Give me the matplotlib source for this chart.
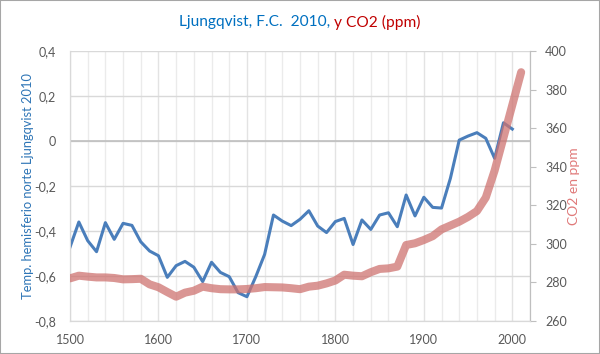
"""
Ljungqvist 2010 northern hemisphere temperature vs CO2 (ppm), dual axis chart.
"""
import matplotlib
matplotlib.use("Agg")
import matplotlib.pyplot as plt
from matplotlib.patches import Rectangle
from matplotlib.ticker import FuncFormatter, MultipleLocator

plt.rcParams["font.family"] = ["Lato", "DejaVu Sans"]

# Decadal temperature anomaly (Ljungqvist 2010)
temp_years = list(range(1500, 2001, 10))
temp_values = [
    -0.472, -0.360, -0.443, -0.492, -0.363, -0.437, -0.366, -0.375, -0.448, -0.489,
    -0.510, -0.606, -0.554, -0.535, -0.561, -0.625, -0.539, -0.584, -0.603, -0.674,
    -0.692, -0.603, -0.504, -0.329, -0.356, -0.376, -0.348, -0.310, -0.378, -0.407,
    -0.358, -0.344, -0.460, -0.351, -0.393, -0.329, -0.319, -0.381, -0.240, -0.333,
    -0.250, -0.295, -0.298, -0.166, 0.004, 0.022, 0.037, 0.012, -0.077, 0.081,
    0.053,
]

# CO2 concentration (ppm)
co2_years = list(range(1500, 2011, 10))
co2_values = [
    282.1, 283.5, 283.0, 282.6, 282.6, 282.3, 281.6, 281.7, 281.9, 279.0,
    277.5, 275.0, 272.6, 274.7, 275.7, 277.8, 277.0, 276.5, 276.4, 276.4,
    276.6, 277.0, 277.6, 277.5, 277.4, 277.0, 276.5, 277.8, 278.3, 279.5,
    281.0, 284.0, 283.5, 283.2, 285.3, 287.0, 287.3, 288.2, 299.4, 300.3,
    302.0, 304.0, 307.5, 309.5, 311.5, 314.0, 317.0, 324.0, 338.0, 355.0,
    372.0, 389.0,
]

BLUE = "#4A7EBB"
PINK = "#CE7370"
TICK_GRAY = "#595959"

fig = plt.figure(figsize=(6, 3.54), dpi=100)
fig.patches.append(Rectangle((0, 0), 1, 1, transform=fig.transFigure,
                             fill=False, edgecolor="#A6A6A6", linewidth=1.5))

ax = fig.add_axes([70 / 600, 33 / 354, 460 / 600, 270 / 354])
ax2 = ax.twinx()

# temperature
ax.plot(temp_years, temp_values, color=BLUE, linewidth=2.2, zorder=3)
ax.set_xlim(1500, 2020)
ax.set_ylim(-0.8, 0.4)
ax.xaxis.set_major_locator(MultipleLocator(100))
ax.xaxis.set_minor_locator(MultipleLocator(20))
ax.yaxis.set_major_locator(MultipleLocator(0.2))
ax.yaxis.set_major_formatter(FuncFormatter(
    lambda v, p: "0" if abs(v) < 1e-9 else f"{v:.1f}".replace(".", ",")))
ax.grid(axis="y", which="major", color="#D9D9D9", linewidth=1.0)
ax.grid(axis="x", which="minor", color="#EBEBEB", linewidth=1.0)
ax.grid(axis="x", which="major", color="#E3E3E3", linewidth=1.0)
ax.axhline(0, color="#BFBFBF", linewidth=1.2, zorder=1)
ax.set_axisbelow(True)
ax.tick_params(axis="both", which="both", length=0, labelsize=9, colors=TICK_GRAY)
ax.tick_params(axis="y", pad=10)
ax.tick_params(axis="x", pad=9)
ax.set_ylabel("Temp. hemisferio norte Ljungqvist 2010", color="#2E75B6", fontsize=9.3)
ax.yaxis.set_label_coords(-0.078, 0.5)

# CO2
ax2.plot(co2_years, co2_values, color=PINK, alpha=0.75, linewidth=5.8,
         solid_capstyle="round", solid_joinstyle="round", zorder=4)
ax2.set_ylim(260, 400)
ax2.yaxis.set_major_locator(MultipleLocator(20))
ax2.tick_params(axis="y", length=4, color="#BFBFBF", labelsize=9,
                labelcolor=TICK_GRAY, pad=7)
ax2.set_ylabel("CO2 en ppm", color="#E07A7A", fontsize=10)
ax2.yaxis.set_label_coords(1.082, 0.5)

for a in (ax, ax2):
    a.spines["top"].set_visible(False)
    a.spines["left"].set_color("#D9D9D9")
    a.spines["bottom"].set_color("#D9D9D9")
    a.spines["right"].set_color("#BFBFBF")

# two-colour title, centred
parts = [("Ljungqvist, F.C.  2010,", "#0070C0"), (" y CO2 (ppm)", "#C00000")]
fig.canvas.draw()
renderer = fig.canvas.get_renderer()
texts = []
for s, c in parts:
    t = fig.text(0, 0, s, color=c, fontsize=11.2, va="center", ha="left")
    texts.append(t)
widths = [t.get_window_extent(renderer).width for t in texts]
x = (600 - sum(widths)) / 2
for t, w in zip(texts, widths):
    t.set_position((x / 600, 1 - 22 / 354))
    x += w

fig.savefig("out.png", dpi=100)
